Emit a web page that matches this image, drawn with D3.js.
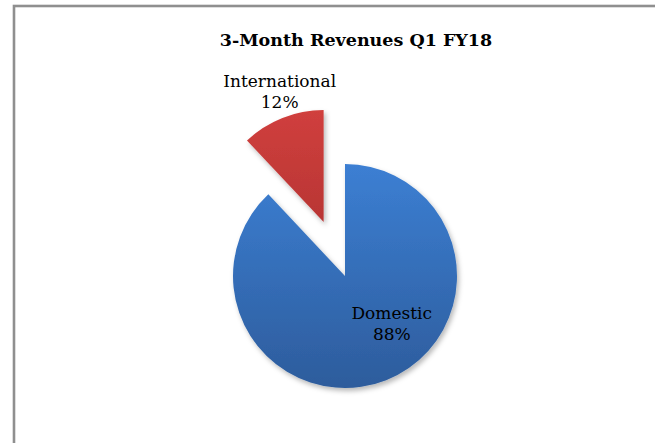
<html lang="en">
<head>
    <meta charset="UTF-8">
    <title>3-Month Revenues Q1 FY18</title>
    <style>
        body { margin: 0; background: #fff; }
        svg#pie-chart { display: block; }
        text { font-family: "DejaVu Serif", "Liberation Serif", serif; fill: #000; }
        text.title { font-weight: bold; font-size: 17.5px; }
        text.label { font-size: 17px; }
    </style>
</head>
<body>
    <svg id="pie-chart"></svg>
    <script src="https://cdnjs.cloudflare.com/ajax/libs/d3/7.8.5/d3.min.js"></script>
    <script>
        // Chart data
        var title = "3-Month Revenues Q1 FY18";
        var categories = ["Domestic", "International"];
        var values = [88, 12];
        var colours = [["#3c7fd3", "#2d5c9c"], ["#d03f3d", "#a12c2b"]];
        var exploded = [false, true];

        var width = 655,
            height = 443,
            radius = 112,
            cx = 345,
            cy = 276,
            explode = 58;

        var svg = d3.select("#pie-chart")
            .attr("width", width)
            .attr("height", height);

        var defs = svg.append("defs");

        // soft shadow under the slices
        var shadow = defs.append("filter")
            .attr("id", "shadow")
            .attr("x", "-20%").attr("y", "-20%")
            .attr("width", "140%").attr("height", "140%");
        shadow.append("feDropShadow")
            .attr("dx", 2).attr("dy", 3)
            .attr("stdDeviation", 2.5)
            .attr("flood-color", "#000")
            .attr("flood-opacity", 0.28);

        // vertical gradients for each slice
        colours.forEach(function(c, i) {
            var grad = defs.append("linearGradient")
                .attr("id", "grad" + i)
                .attr("gradientUnits", "userSpaceOnUse")
                .attr("x1", 0).attr("y1", -radius)
                .attr("x2", 0).attr("y2", radius);
            grad.append("stop").attr("offset", "0%").attr("stop-color", c[0]);
            grad.append("stop").attr("offset", "100%").attr("stop-color", c[1]);
        });

        // chart area border
        svg.append("rect")
            .attr("x", 14)
            .attr("y", 6)
            .attr("width", 660)
            .attr("height", 480)
            .attr("fill", "none")
            .attr("stroke", "#8f8f8f")
            .attr("stroke-width", 2.6);

        // title
        svg.append("text")
            .attr("class", "title")
            .attr("x", 356)
            .attr("y", 46)
            .attr("text-anchor", "middle")
            .text(title);

        var data = categories.map(function(c, i) {
            return { label: c, value: values[i], exploded: exploded[i], i: i };
        });

        var total = d3.sum(values);

        var pie = d3.pie()
            .value(function(d) { return d.value; })
            .sort(null);

        var arc = d3.arc()
            .innerRadius(0)
            .outerRadius(radius);

        function offset(d) {
            if (!d.data.exploded) return [0, 0];
            var mid = (d.startAngle + d.endAngle) / 2;
            return d3.pointRadial(mid, explode);
        }

        var g = svg.append("g")
            .attr("transform", "translate(" + cx + "," + cy + ")");

        var slices = g.selectAll(".arc")
            .data(pie(data))
            .enter().append("g")
            .attr("class", "arc")
            .attr("transform", function(d) {
                return "translate(" + offset(d) + ")";
            });

        slices.append("path")
            .attr("d", arc)
            .attr("fill", function(d) { return "url(#grad" + d.data.i + ")"; })
            .attr("filter", "url(#shadow)");

        // labels: outside for the exploded slice, inside for the big one
        function labelPos(d) {
            var mid = (d.startAngle + d.endAngle) / 2;
            var off = offset(d);
            if (d.data.exploded) {
                var p = d3.pointRadial(mid + 0.04, 133);
                return [p[0] + off[0], p[1] + off[1] - 10];
            }
            var q = d3.pointRadial(mid - 0.33, 72);
            return [q[0], q[1] - 12];
        }

        var labels = g.selectAll(".label")
            .data(pie(data))
            .enter().append("text")
            .attr("class", "label")
            .attr("text-anchor", "middle")
            .attr("transform", function(d) {
                return "translate(" + labelPos(d) + ")";
            });

        labels.append("tspan")
            .attr("x", 0)
            .attr("dy", "0em")
            .text(function(d) { return d.data.label; });

        labels.append("tspan")
            .attr("x", 0)
            .attr("dy", "1.28em")
            .text(function(d) { return Math.round(d.data.value / total * 100) + "%"; });
    </script>
</body>
</html>
